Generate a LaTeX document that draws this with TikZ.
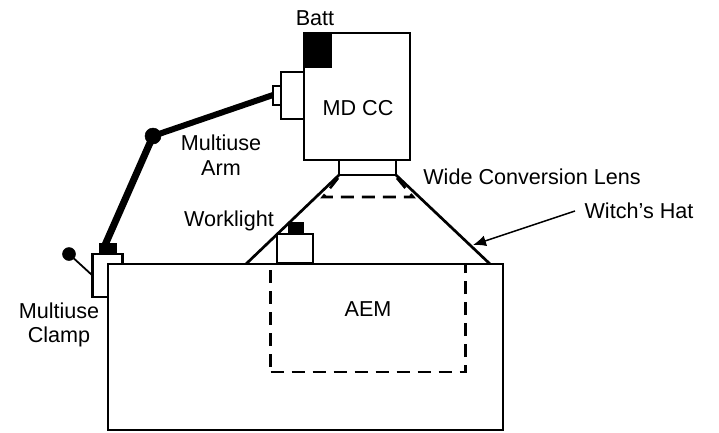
\documentclass[tikz,border=0pt]{standalone}
\usepackage{fontspec}
\setmainfont{Liberation Sans}
\usetikzlibrary{arrows.meta}
\tikzset{
 every node/.style={font=\fontsize{21.6}{24.5}\selectfont,inner sep=0pt,outer sep=0pt,text=black},
 outline/.style={draw=black,line width=2.7pt,fill=white},
 solidb/.style={draw=black,line width=0.5pt,fill=black},
 dash line/.style={draw=black,line width=2.7pt,dash pattern=on 13pt off 8pt},
 lbl/.style={align=center,anchor=center}
}
\begin{document}
\begin{tikzpicture}[x=1pt,y=-1pt]
\useasboundingbox (0,0) rectangle (719,432);
\fill[white] (0,0) rectangle (719,432);
% clamp
\node[solidb,minimum width=17pt,minimum height=10pt,anchor=north west] (clampcap) at (99,243) {};
\node[outline,minimum width=30pt,minimum height=43pt,anchor=north west] (clamp) at (92.5,254) {};
\node[solidb,circle,minimum size=13pt] (knob) at (69,254) {};
\draw[draw=black,line width=1.8pt] (knob) -- (clamp.west);
% witch's hat
\coordinate (hatL) at (246,264);
\coordinate (hatR) at (490,264);
\coordinate (hatTL) at (339,175);
\coordinate (hatTR) at (396,175);
\draw[draw=black,line width=2.7pt] (hatL) -- (hatTL) (hatTR) -- (hatR);
% wide lens dashes
\coordinate (wl1) at (338,178);
\coordinate (wl2) at (323,197);
\coordinate (wl3) at (413,197);
\coordinate (wl4) at (397,178);
\draw[dash line] (wl1) -- (wl2) -- (wl3) -- (wl4);
% main
\node[outline,minimum width=395pt,minimum height=166pt,anchor=north west] (base) at (108,264) {};
\node[outline,draw=black,dash pattern=on 13pt off 8pt,minimum width=195pt,minimum height=108pt,anchor=north west] (aem) at (270.5,264) {};
\draw[draw=black,line width=2.7pt] (108,264) -- (503,264);
\node at (368,309) {AEM};
% worklight
\node[solidb,minimum width=15pt,minimum height=12pt,anchor=north west] (wlcap) at (288,222) {};
\node[outline,minimum width=36pt,minimum height=29pt,anchor=north west] (wlbox) at (277,234) {};
% camera
\node[outline,minimum width=106pt,minimum height=127pt,anchor=north west] (cam) at (304,33) {};
\node[solidb,minimum width=28pt,minimum height=35pt,anchor=north west] (batt) at (303.5,32.5) {};
\node[outline,minimum width=23pt,minimum height=47pt,anchor=north west] (handle) at (281,72) {};
\node[outline,minimum width=57pt,minimum height=15pt,anchor=north west] (lens) at (339,160) {};
\node[draw=black,line width=2pt,fill=white,minimum width=8pt,minimum height=19pt,anchor=north west] (conn) at (273,85.5) {};
% arm
\node[solidb,circle,minimum size=16pt] (joint) at (153,136) {};
\draw[draw=black,line width=7pt] (105,245) -- (joint.center);
\draw[draw=black,line width=6pt] (joint.center) -- (conn.west);
% labels
\node[lbl] at (315,18) {Batt};
\node[lbl] at (358,108) {MD CC};
\node[lbl] at (532,177) {Wide Conversion Lens};
\node[lbl] at (639,211) {Witch's Hat};
\node[lbl] at (221,155) {Multiuse\\Arm};
\node[lbl] at (229,221) {Worklight};
\node[lbl] at (59,325) {Multiuse\\Clamp};
\coordinate (witch) at (473,245);
\draw[draw=black,line width=1.5pt,-{Latex[length=13pt,width=11pt]}] (575,211) -- (witch);
\end{tikzpicture}
\end{document}
